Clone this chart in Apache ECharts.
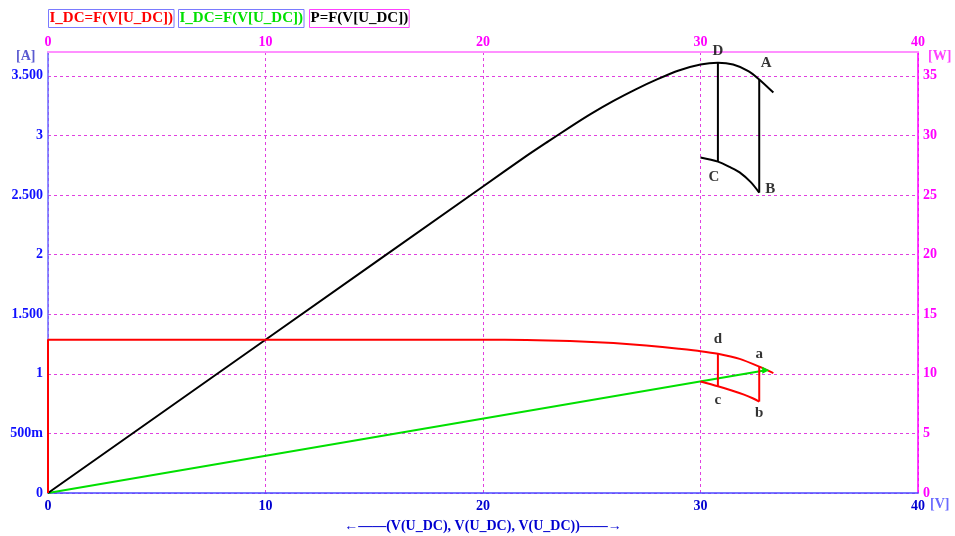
<!DOCTYPE html>
<html>
<head>
<meta charset="utf-8">
<script src="https://cdn.jsdelivr.net/npm/echarts@6/dist/echarts.min.js"></script>
<style>
  html, body { margin: 0; padding: 0; background: #fff; }
  #chart { width: 955px; height: 536px; }
</style>
</head>
<body>
<div id="chart"></div>
<script>
// I-V curve (A) vs voltage (V)
const ivVolt = [0, 0, 10, 20, 22, 24, 26, 27.5, 29, 30, 30.8, 31.8, 32.7, 33.35];
const ivCurr = [0, 1.286, 1.286, 1.286, 1.284, 1.275, 1.258, 1.238, 1.21, 1.19, 1.168, 1.125, 1.06, 1.006];
// lower I branch c-b
const ivLowVolt = [30.0, 30.8, 31.4, 32.0, 32.4, 32.7];
const ivLowCurr = [0.935, 0.895, 0.862, 0.825, 0.795, 0.767];
// load line (green)
const loadVolt = [0, 33.0];
const loadCurr = [0, 1.03];
// P-V curve (W)
const pvVolt = [0, 10, 20, 22, 23, 24, 25, 26, 27, 28, 29, 30, 30.8, 31.5, 32.2, 32.7, 33.35];
const pvPow = [0, 12.86, 25.72, 28.28, 29.5, 30.7, 31.85, 32.9, 33.85, 34.7, 35.45, 35.95, 36.1, 35.95, 35.4, 34.7, 33.6];
// lower P branch C-B
const pvLowVolt = [30.0, 30.8, 31.4, 31.8, 32.3, 32.7];
const pvLowPow = [28.15, 27.8, 27.3, 26.9, 26.1, 25.2];
// jump lines
const jumpVolt = [30.8, 32.7];
const jumpCurrTop = [1.168, 1.06];
const jumpCurrBot = [0.895, 0.767];
const jumpPowTop = [36.1, 34.7];
const jumpPowBot = [27.8, 25.2];
// point names
const powNames = ['D', 'A', 'C', 'B'];
const powVolt = [30.8, 32.7, 30.8, 32.7];
const powVals = [36.1, 34.7, 27.8, 25.2];
const currNames = ['d', 'a', 'c', 'b'];
const currVolt = [30.8, 32.7, 30.8, 32.7];
const currVals = [1.168, 1.06, 0.895, 0.767];
// tick labels
const leftTickVals = [0, 0.5, 1, 1.5, 2, 2.5, 3, 3.5];
const leftTickText = ['0', '500m', '1', '1.500', '2', '2.500', '3', '3.500'];
const legendNames = ['I_DC=F(V[U_DC])', 'I_DC=F(V[U_DC])', 'P=F(V[U_DC])'];

const zip = (xs, ys) => xs.map((x, i) => [x, ys[i]]);
const FONT = '"Liberation Serif", "Times New Roman", serif';

const chart = echarts.init(document.getElementById('chart'));

const lineBase = { type: 'line', showSymbol: false, symbol: 'none', animation: false, silent: true };

const jumpSeries = (tops, bots, yIdx, color) => jumpVolt.map((v, i) => Object.assign({}, lineBase, {
  yAxisIndex: yIdx,
  data: [[v, tops[i]], [v, bots[i]]],
  lineStyle: { color: color, width: 2 }
}));

const labelLayouts = {
  D: { position: 'top', distance: 4 },
  A: { position: 'top', distance: 4, offset: [7, -5] },
  C: { position: 'bottom', distance: 8, offset: [-4, 0] },
  B: { position: 'right', distance: 6, offset: [0, -4] },
  d: { position: 'top', distance: 7 },
  a: { position: 'top', distance: 5 },
  c: { position: 'bottom', distance: 6 },
  b: { position: 'bottom', distance: 4 }
};

const pointLabels = (names, xs, ys, yIdx) => ({
  type: 'scatter', yAxisIndex: yIdx, symbolSize: 0, silent: true, animation: false,
  data: names.map((n, i) => ({
    value: [xs[i], ys[i]],
    label: Object.assign({
      show: true, formatter: n, color: '#000',
      fontFamily: FONT, fontWeight: 'bold', fontSize: 15
    }, labelLayouts[n])
  }))
});

const loadData = zip(loadVolt, loadCurr).map((p, i, arr) => i === arr.length - 1
  ? { value: p, symbol: 'triangle', symbolSize: 7, symbolRotate: -90, itemStyle: { color: '#00e000' } }
  : { value: p, symbol: 'none' });

const legendColors = ['#ff0000', '#00e000', '#000000'];
const legendBorders = ['#7a7aff', '#7a7aff', '#ff40ff'];
const legendX = [48, 178, 309];

chart.setOption({
  backgroundColor: '#fff',
  animation: false,
  grid: { left: 48, right: 37, top: 52, bottom: 43, outerBoundsMode: 'none', containLabel: false },
  xAxis: [
    {
      type: 'value', min: 0, max: 40, interval: 10, position: 'bottom',
      axisLine: { onZero: false, lineStyle: { color: '#4a4aff', width: 1.5 } },
      axisTick: { show: false },
      axisLabel: { color: '#0000d0', fontFamily: FONT, fontWeight: 'bold', fontSize: 14, margin: 6 },
      splitLine: { show: false },
      name: '\u2190\u2014\u2014(V(U_DC), V(U_DC), V(U_DC))\u2014\u2014\u2192',
      nameLocation: 'middle', nameGap: 26,
      nameTextStyle: { color: '#0000d0', fontFamily: FONT, fontWeight: 'bold', fontSize: 14 }
    },
    {
      type: 'value', min: 0, max: 40, interval: 10, position: 'top',
      axisLine: { onZero: false, lineStyle: { color: '#ff90ff', width: 2 } },
      axisTick: { show: false },
      axisLabel: { color: '#ff00ff', fontFamily: FONT, fontWeight: 'bold', fontSize: 14, margin: 3 },
      splitLine: { show: true, lineStyle: { color: '#e040e0', type: [3, 3], width: 1 } }
    }
  ],
  yAxis: [
    {
      type: 'value', min: 0, max: 3.7, interval: 0.5, position: 'left',
      axisLine: { show: true, onZero: false, lineStyle: { color: '#6a6aff', width: 1.5 } },
      axisTick: { show: false },
      axisLabel: {
        color: '#1010ff', fontFamily: FONT, fontWeight: 'bold', fontSize: 14, margin: 5,
        showMaxLabel: false,
        formatter: v => {
          const k = leftTickVals.findIndex(t => Math.abs(t - v) < 1e-6);
          return k < 0 ? '' : leftTickText[k];
        }
      },
      splitLine: { show: true, lineStyle: { color: '#e040e0', type: [3, 3], width: 1 } }
    },
    {
      type: 'value', min: 0, max: 37, interval: 5, position: 'right',
      axisLine: { show: true, onZero: false, lineStyle: { color: '#ff00ff', width: 1.5 } },
      axisTick: { show: false },
      axisLabel: {
        color: '#ff00ff', fontFamily: FONT, fontWeight: 'bold', fontSize: 14, margin: 5,
        showMaxLabel: false,
        formatter: v => (v % 5 === 0 ? String(v) : '')
      },
      splitLine: { show: false }
    }
  ],
  graphic: [
    ...legendNames.map((n, i) => ({
      type: 'text', left: legendX[i], top: 9, silent: true,
      style: {
        text: n, fill: legendColors[i], font: 'bold 15px ' + FONT,
        borderColor: legendBorders[i], borderWidth: 1, padding: [1, 1, 2, 1]
      }
    })),
    { type: 'text', left: 16, top: 49, silent: true,
      style: { text: '[A]', fill: '#5a5ad0', font: 'bold 14px ' + FONT } },
    { type: 'text', left: 928, top: 49, silent: true,
      style: { text: '[W]', fill: '#ff40ff', font: 'bold 14px ' + FONT } },
    { type: 'text', left: 930, top: 497, silent: true,
      style: { text: '[V]', fill: '#6a6aff', font: 'bold 14px ' + FONT } }
  ],
  series: [
    Object.assign({}, lineBase, { name: 'load', data: loadData, showSymbol: true, lineStyle: { color: '#00e000', width: 2 } }),
    Object.assign({}, lineBase, { name: 'P', yAxisIndex: 1, data: zip(pvVolt, pvPow), smooth: 0.25, lineStyle: { color: '#000', width: 2 } }),
    Object.assign({}, lineBase, { name: 'P low', yAxisIndex: 1, data: zip(pvLowVolt, pvLowPow), smooth: 0.3, lineStyle: { color: '#000', width: 2 } }),
    ...jumpSeries(jumpPowTop, jumpPowBot, 1, '#000'),
    Object.assign({}, lineBase, { name: 'I', data: zip(ivVolt, ivCurr), smooth: 0.2, lineStyle: { color: '#ff0000', width: 2 } }),
    Object.assign({}, lineBase, { name: 'I low', data: zip(ivLowVolt, ivLowCurr), smooth: 0.3, lineStyle: { color: '#ff0000', width: 2 } }),
    ...jumpSeries(jumpCurrTop, jumpCurrBot, 0, '#ff0000'),
    pointLabels(powNames, powVolt, powVals, 1),
    pointLabels(currNames, currVolt, currVals, 0)
  ]
});
</script>
</body>
</html>
